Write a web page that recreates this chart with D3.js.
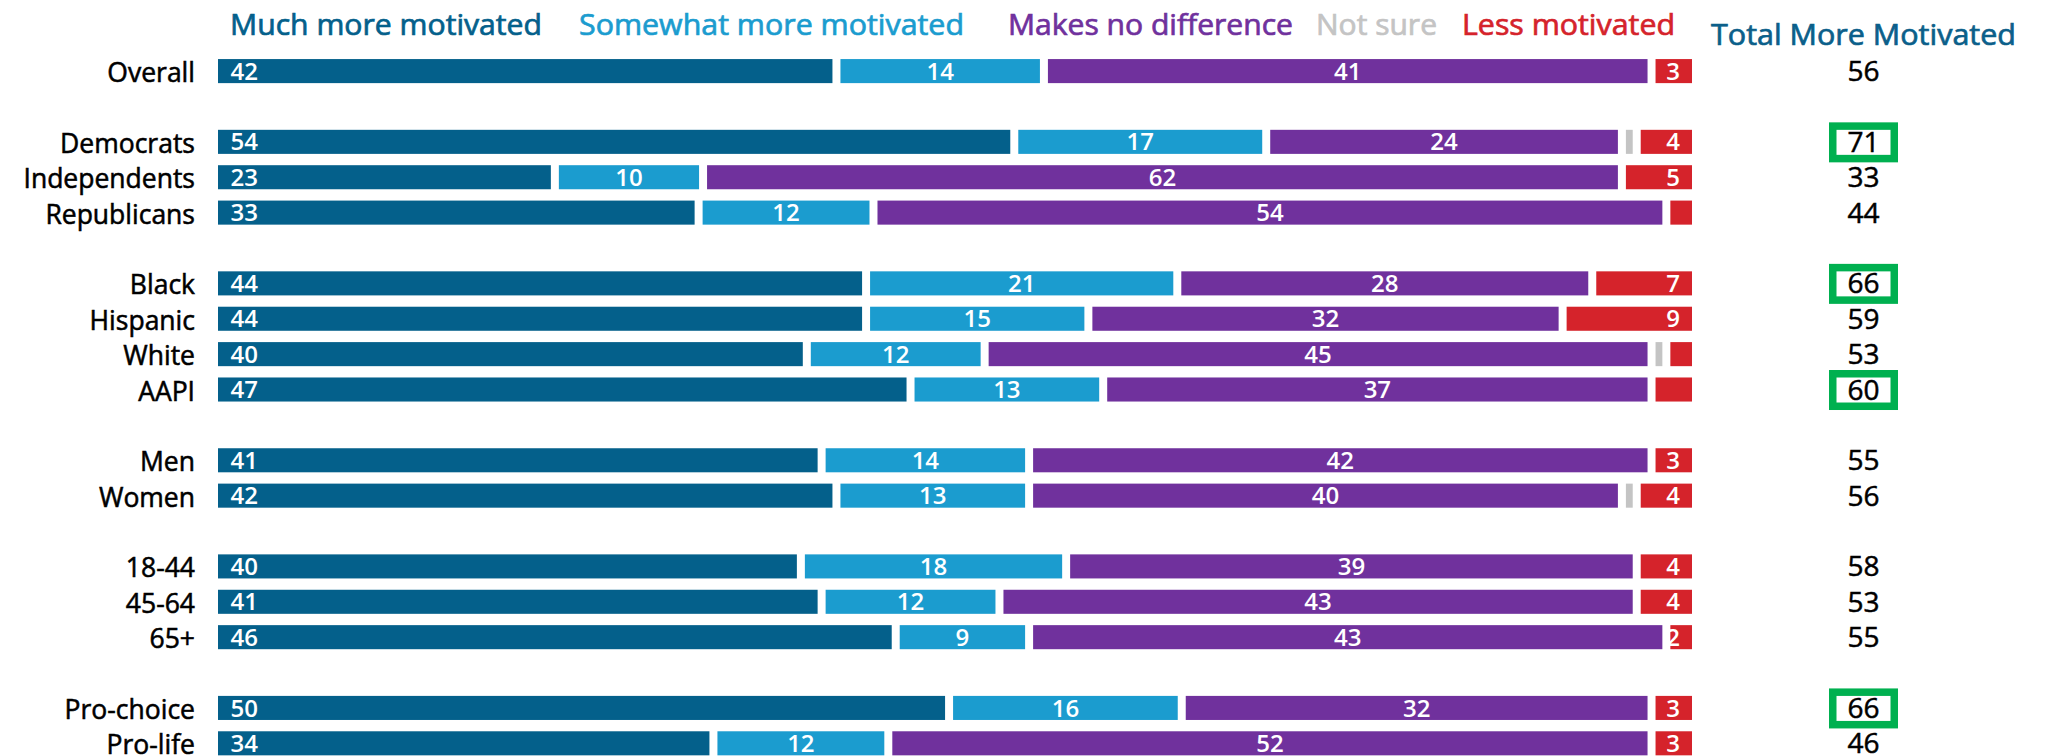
<!DOCTYPE html>
<html>
<head>
<meta charset="utf-8">
<script src="https://cdn.jsdelivr.net/npm/d3@7"></script>
<style>
  html, body { margin: 0; padding: 0; background: #fff; }
  svg { display: block; font-family: "Open Sans", "Lato", sans-serif; }
</style>
</head>
<body>
<svg id="chart" width="2047" height="756"></svg>
<script>
// ---- data ----
const categories = ["Overall", "Democrats", "Independents", "Republicans",
  "Black", "Hispanic", "White", "AAPI", "Men", "Women",
  "18-44", "45-64", "65+", "Pro-choice", "Pro-life"];
const groupSizes = [1, 3, 4, 2, 3, 2];
const seriesNames = ["Much more motivated", "Somewhat more motivated", "Makes no difference", "Not sure", "Less motivated"];
const muchMore     = [42, 54, 23, 32.7, 44, 44, 40, 47, 41, 42, 39.6, 41, 46, 49.6, 33.7];
const somewhatMore = [14, 17, 10, 11.8, 21, 15, 12, 13, 14, 13, 17.9, 12,  9, 15.7, 11.8];
const noDifference = [41, 24, 62, 53.5, 28, 32, 45, 37, 42, 40, 38.5, 43, 43, 31.7, 51.5];
const notSure      = [ 0,  1,  0,  0,    0,  0,  1,  0,  0,  1,  0,    0,  0,  0,    0];
const lessMotivated= [ 3,  4,  5,  2,    7,  9,  2,  3,  3,  4,  4,    4,  2,  3,    3];
const lessLabelShown = [true, true, true, false, true, true, false, false, true, true, true, true, true, true, true];
const totalMore    = [56, 71, 33, 44, 66, 59, 53, 60, 55, 56, 58, 53, 55, 66, 46];
const highlighted  = ["Democrats", "Black", "AAPI", "Pro-choice"];
const totalHeader  = "Total More Motivated";

// ---- styles ----
const colors = ["#04608B", "#1B9CCF", "#70319D", "#C4C4C4", "#D5232B"];
const keys = ["much", "somewhat", "nodiff", "notsure", "less"];

const table = categories.map((c, i) => ({
  cat: c, much: muchMore[i], somewhat: somewhatMore[i], nodiff: noDifference[i],
  notsure: notSure[i], less: lessMotivated[i], lessShown: lessLabelShown[i], total: totalMore[i]
}));

// slot domain with spacer rows between groups
const slots = [];
let k = 0;
groupSizes.forEach((n, gi) => {
  if (gi > 0) slots.push("__gap" + gi);
  for (let j = 0; j < n; j++) slots.push(categories[k++]);
});

const svg = d3.select("#chart");
const x = d3.scaleLinear().domain([0, 100]).range([214, 1696]);
const y = d3.scaleBand().domain(slots).range([53.4, 761.0]).paddingInner(0.32).paddingOuter(0.16);
const color = d3.scaleOrdinal().domain(keys).range(colors);
const inset = 4;

const stacked = d3.stack().keys(keys)(table);

// category labels
svg.append("g").selectAll("text").data(table).join("text")
  .attr("x", 195)
  .attr("y", d => y(d.cat) + y.bandwidth() / 2 + 11)
  .attr("text-anchor", "end")
  .attr("font-size", 26.5)
  .attr("font-weight", 400)
  .attr("fill", "#000")
  .attr("stroke", "#000").attr("stroke-width", 0.55)
  .text(d => d.cat);

// bars
const layers = svg.append("g").selectAll("g").data(stacked).join("g")
  .attr("fill", d => color(d.key));

layers.selectAll("rect").data(d => d.filter(s => s[1] - s[0] > 0)).join("rect")
  .attr("x", s => x(s[0]) + inset)
  .attr("width", s => Math.max(0, x(s[1]) - x(s[0]) - 2 * inset))
  .attr("y", s => y(s.data.cat))
  .attr("height", y.bandwidth());

// bar value labels
const labelG = svg.append("g").attr("fill", "#fff").attr("font-size", 24).attr("font-weight", 600);
stacked.forEach(layer => {
  if (layer.key === "notsure") return;
  const segs = layer.filter(s => s[1] - s[0] > 0 && (layer.key !== "less" || s.data.lessShown));
  labelG.selectAll("text." + layer.key).data(segs).join("text")
    .attr("class", layer.key)
    .attr("y", s => y(s.data.cat) + y.bandwidth() / 2 + 8.6)
    .attr("x", s => layer.key === "much" ? x(s[0]) + inset + 12.5
                  : layer.key === "less" ? x(s[1]) - inset - 12
                  : (x(s[0]) + x(s[1])) / 2)
    .attr("text-anchor", layer.key === "much" ? "start" : layer.key === "less" ? "end" : "middle")
    .text(s => Math.round(s[1] - s[0]));
});

// legend
const legendX = [230, 579, 1008, 1316, 1462];
const legendW = [312, 385, 285, 121, 213];
svg.append("g").selectAll("text").data(seriesNames).join("text")
  .attr("x", (d, i) => legendX[i])
  .attr("y", 35)
  .attr("font-size", 29.5)
  .attr("font-weight", 400)
  .attr("stroke", (d, i) => colors[i]).attr("stroke-width", 0.7)
  .attr("textLength", (d, i) => legendW[i])
  .attr("lengthAdjust", "spacingAndGlyphs")
  .attr("fill", (d, i) => colors[i])
  .text(d => d);

// total column
const totalX = 1863.5;
svg.append("text")
  .attr("x", 1711).attr("y", 45)
  .attr("font-size", 29.5).attr("font-weight", 400)
  .attr("stroke", "#0B5F8A").attr("stroke-width", 0.7)
  .attr("textLength", 305)
  .attr("lengthAdjust", "spacingAndGlyphs")
  .attr("fill", "#0B5F8A")
  .text(totalHeader);

svg.append("g").selectAll("rect").data(table.filter(d => highlighted.includes(d.cat))).join("rect")
  .attr("x", totalX - 30.75)
  .attr("y", d => y(d.cat) + y.bandwidth() / 2 + 0.5 - 16.25)
  .attr("width", 61.5).attr("height", 32.5)
  .attr("fill", "none").attr("stroke", "#00B050").attr("stroke-width", 7.5);

svg.append("g").selectAll("text").data(table).join("text")
  .attr("x", totalX)
  .attr("y", d => y(d.cat) + y.bandwidth() / 2 + 10)
  .attr("text-anchor", "middle")
  .attr("font-size", 28).attr("font-weight", 400)
  .attr("stroke", "#000").attr("stroke-width", 0.5)
  .attr("fill", "#000")
  .text(d => d.total);
</script>
</body>
</html>
